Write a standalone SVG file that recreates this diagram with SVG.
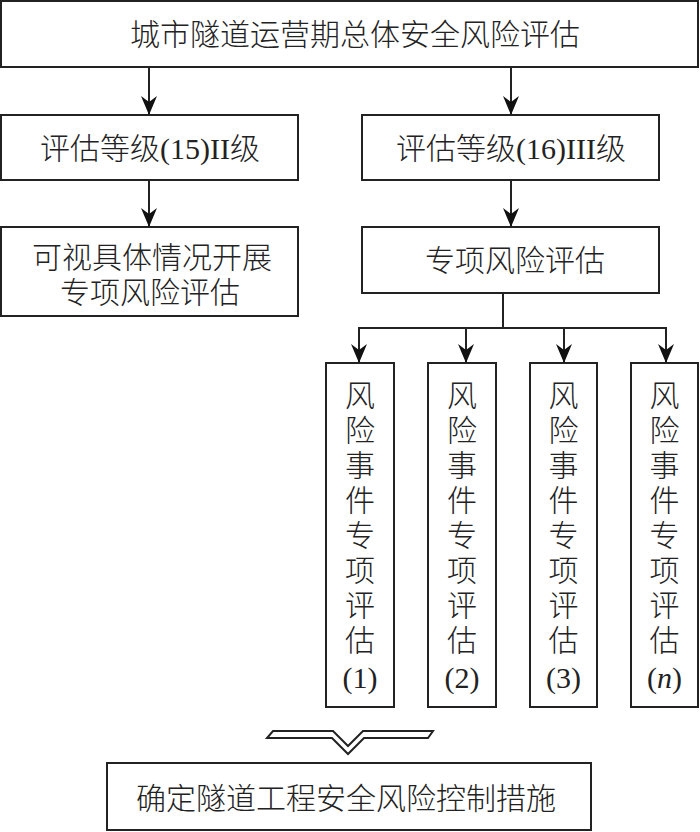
<svg xmlns="http://www.w3.org/2000/svg" width="700" height="832" viewBox="0 0 700 832">
<style>
.box{fill:#fff;stroke:#222;stroke-width:2}
.ln{fill:none;stroke:#222;stroke-width:2}
.t{font-family:"Liberation Serif","Noto Sans CJK SC",serif;font-size:30px;font-weight:300;fill:#222;text-anchor:middle}
</style>
<defs>
<marker id="ah" viewBox="0 -9 19 18" markerUnits="userSpaceOnUse" markerWidth="19" markerHeight="18" refX="19" refY="0" orient="auto">
<path d="M0,-8 L19,0 L0,8 L6,0 Z" fill="#111"/>
</marker>
</defs>
<rect width="700" height="832" fill="#fff"/>
<g id="connectors">
<line class="ln" x1="149" y1="67" x2="149" y2="115" marker-end="url(#ah)"/>
<line class="ln" x1="511" y1="67" x2="511" y2="115" marker-end="url(#ah)"/>
<line class="ln" x1="149" y1="180" x2="149" y2="227" marker-end="url(#ah)"/>
<line class="ln" x1="511" y1="180" x2="511" y2="227" marker-end="url(#ah)"/>
<line class="ln" x1="503" y1="293" x2="503" y2="328"/>
<line class="ln" x1="358" y1="328" x2="667" y2="328"/>
<line class="ln" x1="359" y1="327" x2="359" y2="363" marker-end="url(#ah)"/>
<line class="ln" x1="466" y1="327" x2="466" y2="363" marker-end="url(#ah)"/>
<line class="ln" x1="564" y1="327" x2="564" y2="363" marker-end="url(#ah)"/>
<line class="ln" x1="666" y1="327" x2="666" y2="363" marker-end="url(#ah)"/>
<path class="ln" stroke-width="1.6" d="M273,731 L333,731 L348,746 L363,731 L433,731 L428,738 L364,738 L348,754 L332,738 L267,738 Z"/>
</g>
<g id="n_top">
<rect class="box" x="1" y="1" width="697" height="66"/>
<text class="t" x="355" y="45">城市隧道运营期总体安全风险评估</text>
</g>
<g id="n_level2">
<rect class="box" x="1" y="115" width="297" height="65"/>
<text class="t" x="150" y="159">评估等级(15)II级</text>
</g>
<g id="n_level3">
<rect class="box" x="362" y="115" width="297" height="65"/>
<text class="t" x="511" y="159">评估等级(16)III级</text>
</g>
<g id="n_optional">
<rect class="box" x="1" y="227" width="297" height="89"/>
<text class="t" x="152" y="268">可视具体情况开展</text>
<text class="t" x="150" y="303">专项风险评估</text>
</g>
<g id="n_special">
<rect class="box" x="362" y="227" width="297" height="66"/>
<text class="t" x="515" y="271">专项风险评估</text>
</g>
<g id="n_e1">
<rect class="box" x="326" y="363" width="68" height="344"/>
<text class="t" x="360" y="406">风<tspan x="360" dy="35">险</tspan><tspan x="360" dy="35">事</tspan><tspan x="360" dy="35">件</tspan><tspan x="360" dy="35">专</tspan><tspan x="360" dy="35">项</tspan><tspan x="360" dy="35">评</tspan><tspan x="360" dy="35">估</tspan><tspan x="360" dy="37">(1)</tspan></text>
</g>
<g id="n_e2">
<rect class="box" x="428" y="363" width="68" height="344"/>
<text class="t" x="462" y="406">风<tspan x="462" dy="35">险</tspan><tspan x="462" dy="35">事</tspan><tspan x="462" dy="35">件</tspan><tspan x="462" dy="35">专</tspan><tspan x="462" dy="35">项</tspan><tspan x="462" dy="35">评</tspan><tspan x="462" dy="35">估</tspan><tspan x="462" dy="37">(2)</tspan></text>
</g>
<g id="n_e3">
<rect class="box" x="530" y="363" width="67" height="344"/>
<text class="t" x="563.5" y="406">风<tspan x="563.5" dy="35">险</tspan><tspan x="563.5" dy="35">事</tspan><tspan x="563.5" dy="35">件</tspan><tspan x="563.5" dy="35">专</tspan><tspan x="563.5" dy="35">项</tspan><tspan x="563.5" dy="35">评</tspan><tspan x="563.5" dy="35">估</tspan><tspan x="563.5" dy="37">(3)</tspan></text>
</g>
<g id="n_en">
<rect class="box" x="631" y="363" width="67" height="344"/>
<text class="t" x="664.5" y="406">风<tspan x="664.5" dy="35">险</tspan><tspan x="664.5" dy="35">事</tspan><tspan x="664.5" dy="35">件</tspan><tspan x="664.5" dy="35">专</tspan><tspan x="664.5" dy="35">项</tspan><tspan x="664.5" dy="35">评</tspan><tspan x="664.5" dy="35">估</tspan><tspan x="664.5" dy="37">(<tspan font-style="italic">n</tspan>)</tspan></text>
</g>
<g id="n_control">
<rect class="box" x="107" y="763" width="484" height="67"/>
<text class="t" x="346" y="809">确定隧道工程安全风险控制措施</text>
</g>
</svg>
